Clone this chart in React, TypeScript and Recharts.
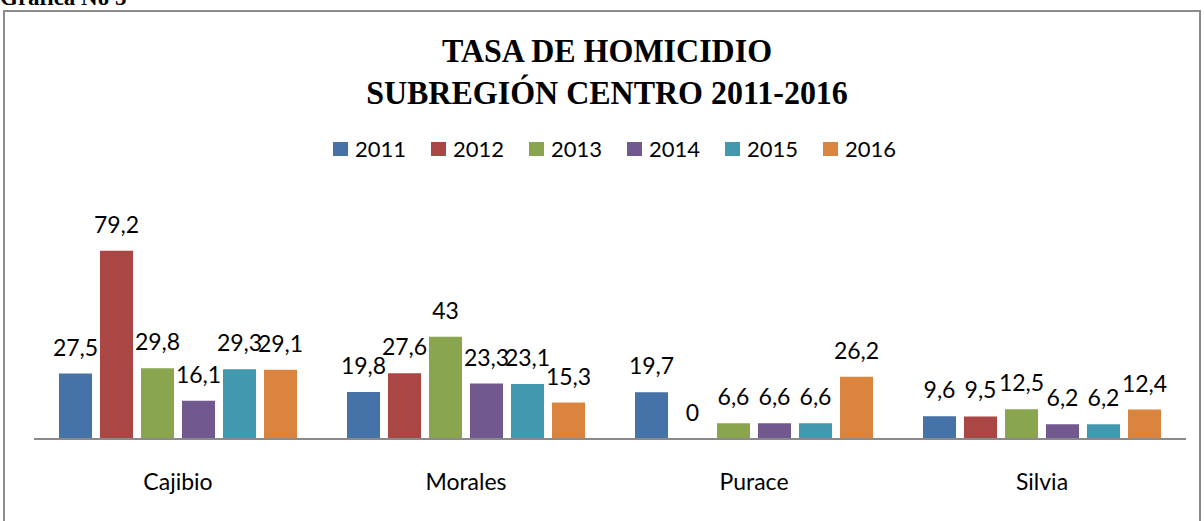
import { BarChart, Bar, XAxis, YAxis, LabelList } from "recharts";

const categories = ["Cajibio", "Morales", "Purace", "Silvia"];
const years = ["2011", "2012", "2013", "2014", "2015", "2016"];
const y2011 = [27.5, 19.8, 19.7, 9.6];
const y2012 = [79.2, 27.6, 0, 9.5];
const y2013 = [29.8, 43, 6.6, 12.5];
const y2014 = [16.1, 23.3, 6.6, 6.2];
const y2015 = [29.3, 23.1, 6.6, 6.2];
const y2016 = [29.1, 15.3, 26.2, 12.4];
const colors = ["#4572A7", "#AA4643", "#89A54E", "#71588F", "#4198AF", "#DB843D"];

const series = [y2011, y2012, y2013, y2014, y2015, y2016];

const data = categories.map((name, i) => {
    const row: Record<string, string | number> = { name };
    years.forEach((y, j) => {
        row[y] = series[j][i];
    });
    return row;
});

const sans = "Lato, 'Open Sans', sans-serif";
const serif = "'Liberation Serif', 'Times New Roman', serif";

const fmt = (v: any) => String(v).replace(".", ",");

export default function App() {
    return (
        <div style={{ position: "absolute", left: 0, top: 0, width: 1204, height: 521, overflow: "hidden", background: "#fff" }}>
            <svg width={1204} height={521} style={{ position: "absolute", left: 0, top: 0 }}>
                <text x={0} y={5} fontFamily={serif} fontWeight="bold" fontSize={23} fill="#000">
                    Gráfica No 5
                </text>
                <rect x={4} y={11} width={1196} height={540} fill="none" stroke="#8c8c8c" strokeWidth={2} />
                <text transform="translate(607,62) scale(1,1.08)" textAnchor="middle" fontFamily={serif} fontWeight="bold" fontSize={32} fill="#000">
                    TASA DE HOMICIDIO
                </text>
                <text transform="translate(607,104) scale(1,1.08)" textAnchor="middle" fontFamily={serif} fontWeight="bold" fontSize={32} fill="#000">
                    SUBREGIÓN CENTRO 2011-2016
                </text>
                {years.map((y, i) => (
                    <g key={y}>
                        <rect x={333 + i * 98} y={142} width={15} height={14} fill={colors[i]} />
                        <text x={355 + i * 98} y={156.5} fontFamily={sans} fontSize={22} fill="#000">
                            {y}
                        </text>
                    </g>
                ))}
            </svg>
            <div style={{ position: "absolute", left: 0, top: 0 }}>
                <BarChart
                    width={1204}
                    height={521}
                    data={data}
                    margin={{ top: 225, right: 18, bottom: 0, left: 34 }}
                    barSize={33}
                    barGap={8}
                >
                    <YAxis hide domain={[0, 90]} />
                    <XAxis
                        dataKey="name"
                        height={82}
                        interval={0}
                        tickLine={false}
                        tickSize={0}
                        tickMargin={35}
                        axisLine={{ stroke: "#8a8a8a", strokeWidth: 2 }}
                        tick={{ fill: "#000", fontSize: 23, fontFamily: sans }}
                    />
                    {years.map((y, i) => (
                        <Bar key={y} dataKey={y} fill={colors[i]} minPointSize={0.01} isAnimationActive={false}>
                            <LabelList
                                dataKey={y}
                                position="top"
                                offset={18}
                                formatter={fmt}
                                fill="#000"
                                fontSize={23}
                                fontFamily={sans}
                            />
                        </Bar>
                    ))}
                </BarChart>
            </div>
        </div>
    );
}
